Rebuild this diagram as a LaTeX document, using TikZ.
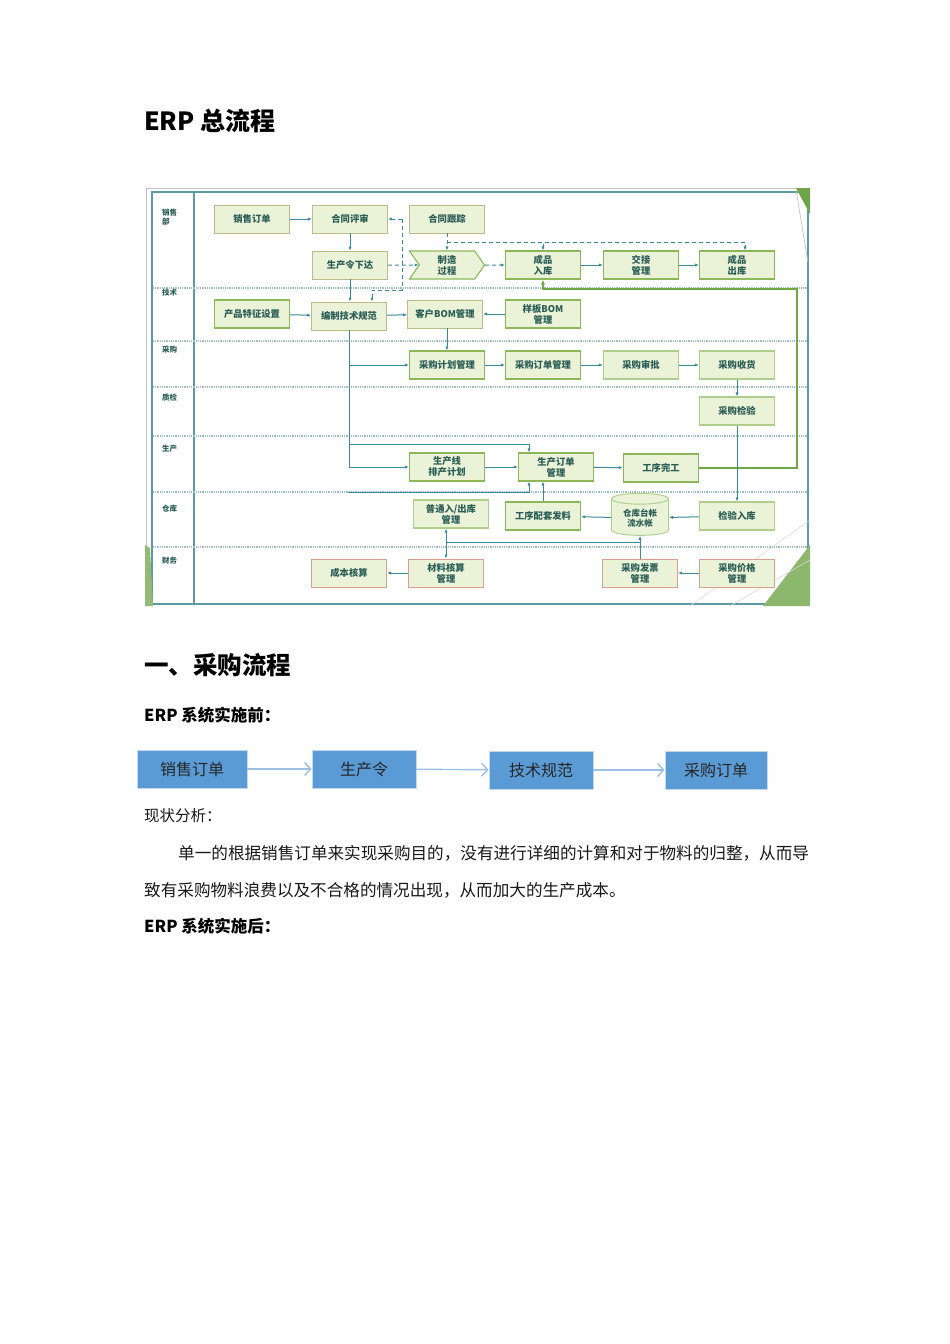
\documentclass[tikz,border=0pt]{standalone}
\usepackage{fontspec}
\newfontfamily\cjk{Noto Sans CJK SC}
\usetikzlibrary{arrows.meta,shapes.symbols,shapes.geometric}
\definecolor{tealline}{HTML}{3A8A9A}
\definecolor{framec}{HTML}{5E9AA4}
\definecolor{lanec}{HTML}{9FBFC5}
\definecolor{boxfill}{HTML}{EAF2D8}
\definecolor{boxtan}{HTML}{BDBA8C}
\definecolor{boxgreen}{HTML}{8DB85A}
\definecolor{boxpink}{HTML}{D9A08E}
\definecolor{boxtext}{HTML}{2B5D55}
\definecolor{thickgreen}{HTML}{72A745}
\definecolor{decog}{HTML}{6FA548}
\definecolor{bluefill}{HTML}{5B9BD5}
\definecolor{blueline}{HTML}{9CC0E4}
\begin{document}
\begin{tikzpicture}[x=1pt,y=-1pt,
  box/.style={draw=boxtan, fill=boxfill, line width=0.9pt, minimum width=75pt, minimum height=28pt,
    inner sep=1pt, align=center, text=boxtext, font=\cjk\bfseries\fontsize{9.3}{11}\selectfont},
  gbox/.style={box, draw=boxgreen, line width=1.1pt},
  fbox/.style={box, draw=boxpink},
  conn/.style={draw=tealline, line width=1pt, -{Latex[length=4pt,width=3.2pt]}},
  plain/.style={draw=tealline, line width=1pt},
  dconn/.style={conn, dash pattern=on 4pt off 3pt},
  gconn/.style={draw=thickgreen, line width=2pt, -{Latex[length=5pt,width=4pt]}},
  lane/.style={draw=lanec, line width=1.3pt, dash pattern=on 1pt off 0.8pt},
  lanelabel/.style={anchor=west, align=left, inner sep=0pt, text=boxtext, font=\cjk\bfseries\fontsize{7.5}{9}\selectfont},
  bbox/.style={draw=blueline!60, fill=bluefill, line width=0.8pt, minimum height=38pt, inner sep=2pt,
    text=black!85, font=\cjk\fontsize{16}{18}\selectfont},
  barrow/.style={draw=blueline, line width=1.4pt, -{Straight Barb[length=6pt,width=13pt,line width=1.4pt]}},
  para/.style={anchor=west, inner sep=0pt, font=\cjk\fontsize{16.6}{18}\selectfont, text=black!90},
]
\useasboundingbox (0,0) rectangle (950,1344);
\fill[white] (0,0) rectangle (950,1344);

% headings
\node[anchor=west, inner sep=0pt, font=\cjk\bfseries\fontsize{25}{28}\selectfont] (title) at (144,121) {ERP 总流程};

% frame
\draw[black!25, line width=0.8pt] (146,188) -- (798,188);
\draw[black!25, line width=0.8pt] (146,188) -- (146,606);
\draw[framec, line width=2pt] (152,192) rectangle (808,604);
\draw[framec, line width=1.5pt] (194,192) -- (194,604);
\fill[decog] (796,188) -- (810,188) -- (810,214) -- cycle;
\draw[black!25, line width=0.6pt] (796,190) -- (808,262);
\fill[decog!80] (763,606) -- (810,606) -- (810,545) -- cycle;
\draw[black!15, line width=0.6pt] (690,606) -- (810,520);
\draw[black!15, line width=0.6pt] (730,606) -- (810,560);
\fill[decog!75] (145,545) -- (150,548) -- (153,606) -- (145,606) -- cycle;

% lanes
\foreach \yy in {288,341,387,436,492,547} \draw[lane] (153,\yy) -- (808,\yy);
\node[lanelabel] (l1) at (162,217) {销售\\部};
\node[lanelabel] (l2) at (162,293) {技术};
\node[lanelabel] (l3) at (162,350) {采购};
\node[lanelabel] (l4) at (162,398) {质检};
\node[lanelabel] (l5) at (162,449) {生产};
\node[lanelabel] (l6) at (162,509) {仓库};
\node[lanelabel] (l7) at (162,561) {财务};

% nodes
\node[box] (xsdd) at (252,219) {销售订单};
\node[box] (htps) at (350,219) {合同评审};
\node[box] (htgz) at (447,219) {合同跟踪};
\node[box] (scl) at (350,265) {生产令下达};
\node[signal, signal from=west, signal to=east, signal pointer angle=110, draw=boxgreen, fill=boxfill,
  line width=1.1pt, minimum width=75pt, minimum height=28pt, inner sep=1pt, align=center, text=boxtext,
  font=\cjk\bfseries\fontsize{9.3}{11}\selectfont] (zzgc) at (447,265) {制造\\过程};
\node[gbox] (cprk) at (543,265) {成品\\入库};
\node[gbox] (jjgl) at (641,265) {交接\\管理};
\node[gbox] (cpck) at (737,265) {成品\\出库};
\node[gbox, line width=1.4pt] (cptz) at (252,314) {产品特征设置};
\node[box] (bjjs) at (349,316) {编制技术规范};
\node[box] (khbom) at (445,314) {客户BOM管理};
\node[gbox] (ybbom) at (543,314) {样板BOM\\管理};
\node[gbox] (cgjh) at (447,365) {采购计划管理};
\node[gbox] (cgdd) at (543,365) {采购订单管理};
\node[gbox, draw=boxgreen!70] (cgsp) at (641,365) {采购审批};
\node[gbox, draw=boxgreen!70] (cgsh) at (737,365) {采购收货};
\node[gbox, draw=boxgreen!70] (cgjy) at (737,411) {采购检验};
\node[gbox, line width=1.4pt] (scx) at (447,467) {生产线\\排产计划};
\node[gbox] (scdd) at (556,467) {生产订单\\管理};
\node[gbox, line width=1.4pt] (gxwg) at (661,468) {工序完工};
\node[gbox, draw=boxgreen!70] (ptcrk) at (451,514) {普通入/出库\\管理};
\node[gbox, line width=1.4pt] (gxpt) at (543,516) {工序配套发料};
\node[cylinder, shape border rotate=90, aspect=0.3, draw=boxgreen!70, fill=boxfill, line width=0.9pt,
  minimum width=57pt, minimum height=42pt, inner sep=1pt, align=center, text=boxtext,
  font=\cjk\bfseries\fontsize{8.5}{10}\selectfont] (ledger) at (640,518) {仓库台帐\\流水帐};
\node[gbox, draw=boxgreen!70] (jyrk) at (737,516) {检验入库};
\node[fbox] (cbhs) at (349,573) {成本核算};
\node[fbox] (clhs) at (446,573) {材料核算\\管理};
\node[fbox] (cgfp) at (640,573) {采购发票\\管理};
\node[fbox] (cgjg) at (737,573) {采购价格\\管理};

% connectors
\draw[conn] (xsdd) -- (htps);
\draw[conn] (htps) -- (scl);
\draw[conn] (scl) -- (bjjs.north -| scl);
\coordinate (d1) at (402,219);
\coordinate (d2) at (402,290);
\draw[dconn] (d1) -- (htps.east);
\draw[dconn] (d1) -- (d2) -| ([xshift=23pt]bjjs.north);
\draw[dconn] (scl) -- (zzgc);
\draw[dconn] (htgz) -- (zzgc);
\coordinate (d3) at (447,242);
\draw[dconn] (d3) -| ([xshift=0pt]cprk.north);
\draw[dconn] (d3) -| ([xshift=8pt]cpck.north);
\draw[dconn] (zzgc) -- (cprk);
\draw[conn] (cprk) -- (jjgl);
\draw[conn] (jjgl) -- (cpck);
\coordinate (gc) at (797,289);
\draw[gconn] (gxwg.east) -| (gc) -| (cprk.south);
\draw[conn] (cptz) -- (bjjs);
\draw[conn] (bjjs) -- (khbom);
\draw[conn] (ybbom) -- (khbom);
\draw[conn] (khbom.south -| cgjh) -- (cgjh);
\draw[conn] (bjjs.south) |- (scx.west);
\draw[conn] (bjjs.south |- cgjh.west) -- (cgjh.west);
\coordinate (b3) at (349,444);
\draw[conn] (b3) -| ([xshift=-27pt]scdd.north);
\coordinate (b4) at (348,492);
\draw[conn] (b4) -| ([xshift=-27pt]scdd.south);
\draw[conn] (cgjh) -- (cgdd);
\draw[conn] (cgdd) -- (cgsp);
\draw[conn] (cgsp) -- (cgsh);
\draw[conn] (cgsh) -- (cgjy);
\draw[conn] (cgjy) -- (jyrk);
\draw[conn] (scx) -- (scdd);
\draw[conn] (scdd) -- (gxwg);
\draw[conn] (jyrk) -- (ledger);
\draw[conn] (ledger) -- (gxpt);
\draw[conn] (gxpt.north) -- (gxpt.north |- scdd.south);
\draw[conn] (cgfp) -- (ledger);
\coordinate (h1) at (640,542);
\draw[plain] (h1) -- (h1 -| clhs.north);
\draw[conn, {Latex[length=4pt,width=3.2pt]}-{Latex[length=4pt,width=3.2pt]}] (clhs.north |- ptcrk.south) -- (clhs.north);
\draw[conn] (clhs) -- (cbhs);
\draw[conn] (cgjg) -- (cgfp);

% section 2
\node[anchor=west, inner sep=0pt, font=\cjk\bfseries\fontsize{24.5}{28}\selectfont] (sec) at (144,665) {一、采购流程};
\node[anchor=west, inner sep=0pt, font=\cjk\bfseries\fontsize{16.5}{20}\selectfont] (pre) at (144,715) {ERP 系统实施前：};
\node[bbox, minimum width=110pt] (p1) at (192,769) {销售订单};
\node[bbox, minimum width=104pt] (p2) at (364,769) {生产令};
\node[bbox, minimum width=104pt] (p3) at (541,770) {技术规范};
\node[bbox, minimum width=102pt] (p4) at (716,770) {采购订单};
\draw[barrow] (p1) -- (p2);
\draw[barrow] (p2) -- (p3);
\draw[barrow] (p3) -- (p4);
\node[para, font=\cjk\fontsize{15.5}{18}\selectfont] (st) at (144,816) {现状分析：};
\node[para] (pa1) at (178,853) {单一的根据销售订单来实现采购目的，没有进行详细的计算和对于物料的归整，从而导};
\node[para] (pa2) at (144,890) {致有采购物料浪费以及不合格的情况出现，从而加大的生产成本。};
\node[anchor=west, inner sep=0pt, font=\cjk\bfseries\fontsize{16.5}{20}\selectfont] (post) at (144,926) {ERP 系统实施后：};
\end{tikzpicture}
\end{document}
